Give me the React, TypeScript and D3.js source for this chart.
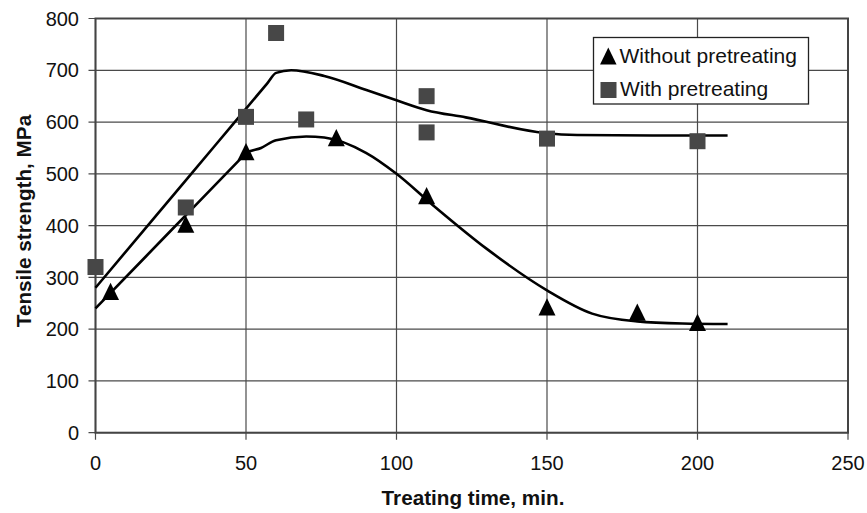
import React from "react";
import * as d3 from "d3";

const xTicks = [0, 50, 100, 150, 200, 250];
const yTicks = [0, 100, 200, 300, 400, 500, 600, 700, 800];

const withoutTime = [5, 30, 50, 80, 110, 150, 180, 200];
const withoutValue = [270, 400, 540, 567, 455, 240, 230, 210];

const withTime = [0, 30, 50, 60, 70, 110, 110, 150, 200];
const withValue = [320, 435, 610, 772, 605, 650, 580, 568, 563];

const withoutTrendTime = [0, 25, 48, 50, 55, 60, 70, 76, 90, 100, 112, 130, 150, 165, 180, 195, 210];
const withoutTrendValue = [240, 390, 528, 540, 550, 565, 572, 570, 540, 500, 440, 355, 275, 230, 215, 211, 210];

const withTrendTime = [0, 20, 40, 57, 60, 65, 76, 90, 100, 110, 123, 149, 160, 185, 210];
const withTrendValue = [280, 418.3, 556.7, 674.3, 695, 700, 689, 662, 642, 623, 609, 579, 575, 574, 574];

const W = 867;
const H = 513;
const left = 95.5, right = 848, top = 18.5, bottom = 432.7;

export default function App() {
  const x = d3.scaleLinear().domain([0, 250]).range([left, right]);
  const y = d3.scaleLinear().domain([0, 800]).range([bottom, top]);
  const line = d3
    .line<[number, number]>()
    .x((d) => x(d[0]))
    .y((d) => y(d[1]))
    .curve(d3.curveMonotoneX);
  const upper = withTrendTime.map((t, i) => [t, withTrendValue[i]] as [number, number]);
  const lower = withoutTrendTime.map((t, i) => [t, withoutTrendValue[i]] as [number, number]);
  const font = "Arial, 'Liberation Sans', Helvetica, sans-serif";
  const sq = 16;
  const tri = (cx: number, cy: number, s: number) =>
    `M${cx},${cy - s * 0.6}L${cx + s / 2},${cy + s * 0.42}L${cx - s / 2},${cy + s * 0.42}Z`;

  return (
    <svg width={W} height={H} style={{ position: "absolute", left: 0, top: 0, background: "#fff" }} fontFamily={font}>
      {yTicks.map((v) => (
        <line key={"gy" + v} x1={left - 7} x2={right} y1={y(v)} y2={y(v)} stroke="#4a4a4a" strokeWidth={1.2} />
      ))}
      {xTicks.map((v) => (
        <line key={"gx" + v} x1={x(v)} x2={x(v)} y1={top} y2={bottom + 7} stroke="#4a4a4a" strokeWidth={1.2} />
      ))}
      <rect x={left} y={top} width={right - left} height={bottom - top} fill="none" stroke="#444" strokeWidth={2} />
      {yTicks.map((v) => (
        <text key={"ty" + v} x={79} y={y(v)} dy="0.36em" textAnchor="end" fontSize={20} fill="#111">
          {v}
        </text>
      ))}
      {xTicks.map((v) => (
        <text key={"tx" + v} x={x(v)} y={470} textAnchor="middle" fontSize={20} fill="#111">
          {v}
        </text>
      ))}
      <text x={473} y={505} textAnchor="middle" fontSize={20.7} fontWeight="bold" fill="#111">
        Treating time, min.
      </text>
      <text
        transform={`translate(31,221) rotate(-90)`}
        textAnchor="middle"
        fontSize={20.7}
        fontWeight="bold"
        fill="#111"
      >
        Tensile strength, MPa
      </text>
      <path d={line(upper) || ""} fill="none" stroke="#000" strokeWidth={2.6} />
      <path d={line(lower) || ""} fill="none" stroke="#000" strokeWidth={2.6} />
      {withTime.map((t, i) => (
        <rect key={"s" + i} x={x(t) - sq / 2} y={y(withValue[i]) - sq / 2} width={sq} height={sq} fill="#474747" />
      ))}
      {withoutTime.map((t, i) => (
        <path key={"t" + i} d={tri(x(t), y(withoutValue[i]), 17)} fill="#000" />
      ))}
      <g>
        <rect x={593.5} y={37.5} width={215} height={66.5} fill="#fff" stroke="#222" strokeWidth={1.3} />
        <path d={tri(608.3, 57.5, 16.5)} fill="#000" />
        <text x={619.5} y={62.5} fontSize={21} fill="#111">Without pretreating</text>
        <rect x={600.5} y={82} width={16} height={16} fill="#474747" />
        <text x={620} y={95.5} fontSize={21} fill="#111">With pretreating</text>
      </g>
    </svg>
  );
}
